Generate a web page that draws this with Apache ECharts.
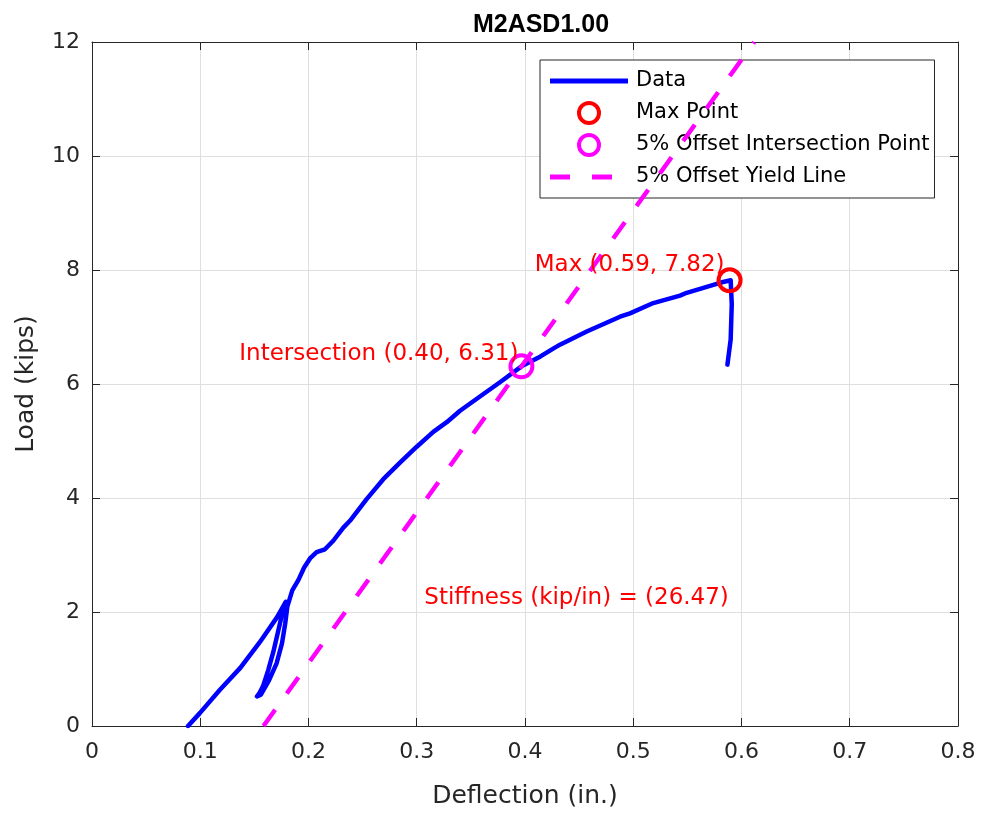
<!DOCTYPE html>
<html>
<head>
<meta charset="utf-8">
<script src="https://cdn.jsdelivr.net/npm/echarts@6/dist/echarts.min.js"></script>
<style>
html,body{margin:0;padding:0;background:#fff;}
#chart{width:982px;height:815px;}
</style>
</head>
<body>
<div id="chart"></div>
<script>
// ---- data ----
const deflection = [
  0.0887, 0.0998, 0.118, 0.137, 0.155, 0.171, 0.179,
  0.1755, 0.1718, 0.1675, 0.1628, 0.158, 0.1545, 0.1524,
  0.156, 0.1635, 0.1705, 0.1755, 0.1785, 0.1805,
  0.1850, 0.1906, 0.1960, 0.2014, 0.2075, 0.2152, 0.2229, 0.2322, 0.2383, 0.2537, 0.2691,
  0.2845, 0.3000, 0.3153, 0.3277, 0.3400, 0.3584, 0.3769, 0.3967, 0.4139, 0.4268, 0.4323,
  0.4570, 0.4878, 0.4970, 0.5185, 0.5432, 0.5494, 0.5740, 0.5830, 0.5900,
  0.5910, 0.5900, 0.5870];
const loadKips = [
  0, 0.23, 0.63, 1.02, 1.47, 1.91, 2.18,
  1.95, 1.65, 1.30, 0.98, 0.70, 0.57, 0.52,
  0.55, 0.80, 1.10, 1.45, 1.80, 2.10,
  2.38, 2.56, 2.78, 2.94, 3.05, 3.10, 3.25, 3.48, 3.60, 3.98, 4.33,
  4.62, 4.90, 5.16, 5.33, 5.53, 5.78, 6.03, 6.31, 6.48, 6.63, 6.69,
  6.92, 7.18, 7.24, 7.42, 7.55, 7.60, 7.74, 7.79, 7.82,
  7.40, 6.78, 6.34];
const maxPoint = [0.589, 7.82];
const intersectionPoint = [0.3967, 6.31];
const yieldLineX = [0.1584, 0.6117];
const yieldLineY = [0, 12];
const stiffness = 26.47;
const xTicks = [0, 0.1, 0.2, 0.3, 0.4, 0.5, 0.6, 0.7, 0.8];
const yTicks = [0, 2, 4, 6, 8, 10, 12];
const legendNames = ['Data', 'Max Point', '5% Offset Intersection Point', '5% Offset Yield Line'];

// ---- chart ----
const FONT = 'DejaVu Sans';
const AX = '#262626';
const BLUE = '#0000FF', RED = '#FF0000', MAGENTA = '#FF00FF';
const chart = echarts.init(document.getElementById('chart'));
const xMin = xTicks[0], xMax = xTicks[xTicks.length - 1], xInt = xTicks[1] - xTicks[0];
const yMin = yTicks[0], yMax = yTicks[yTicks.length - 1], yInt = yTicks[1] - yTicks[0];

function baseAxis(min, max, interval, extra) {
  return Object.assign({
    type: 'value', min: min, max: max, interval: interval,
    axisLine: { show: true, onZero: false, lineStyle: { color: AX, width: 1 } },
    axisTick: { show: true, inside: true, length: 8, lineStyle: { color: AX, width: 1 } },
    splitLine: { show: false }
  }, extra);
}

const labelFmt = (p) => [p.value[0].toFixed(2), p.value[1].toFixed(2)].join(', ');

const option = {
  animation: false,
  backgroundColor: '#fff',
  title: {
    text: 'M2ASD1.00', left: 536, top: 8, textAlign: 'center',
    textStyle: { fontFamily: 'Liberation Sans', fontWeight: 'bold', fontSize: 25, color: '#000' }
  },
  grid: { left: 92, right: 24, top: 42, bottom: 89, containLabel: false },
  legend: {
    orient: 'vertical', left: 540, top: 60,
    itemWidth: 78, itemHeight: 20, itemGap: 8,
    padding: [9, 5, 9, 10],
    borderColor: AX, borderWidth: 1, backgroundColor: '#fff', borderRadius: 0,
    textStyle: { fontFamily: FONT, fontSize: 21, color: '#000', lineHeight: 24, padding: [0, 0, 0, 3] },
    data: [
      { name: legendNames[0], icon: 'path://M0,0H78V5H0Z', itemStyle: { color: BLUE, borderWidth: 0 } },
      { name: legendNames[1], icon: 'circle', itemStyle: { color: 'rgba(255,255,255,0)', borderColor: RED, borderWidth: 4 } },
      { name: legendNames[2], icon: 'circle', itemStyle: { color: 'rgba(255,255,255,0)', borderColor: MAGENTA, borderWidth: 4 } },
      { name: legendNames[3], icon: 'path://M0,0H20V5H0Z M42,0H62V5H42Z M78,0L78,5L78,0Z', itemStyle: { color: MAGENTA, borderWidth: 0 } }
    ]
  },
  xAxis: [
    baseAxis(xMin, xMax, xInt, {
      position: 'bottom',
      name: 'Deflection (in.)', nameLocation: 'middle', nameGap: 58,
      nameTextStyle: { fontFamily: FONT, fontSize: 25, color: AX },
      axisLabel: { show: true, margin: 15, color: AX, fontFamily: FONT, fontSize: 22,
        formatter: (v) => String(+v.toFixed(1)) },
      splitLine: { show: true, lineStyle: { color: '#dfdfdf', width: 1 } }
    }),
    baseAxis(xMin, xMax, xInt, { position: 'top', axisLabel: { show: false } })
  ],
  yAxis: [
    baseAxis(yMin, yMax, yInt, {
      position: 'left',
      name: 'Load (kips)', nameLocation: 'middle', nameGap: 53,
      nameTextStyle: { fontFamily: FONT, fontSize: 25, color: AX },
      axisLabel: { show: true, margin: 12, color: AX, fontFamily: FONT, fontSize: 22 },
      splitLine: { show: true, lineStyle: { color: '#dfdfdf', width: 1 } }
    }),
    baseAxis(yMin, yMax, yInt, { position: 'right', axisLabel: { show: false } })
  ],
  series: [
    {
      name: 'Data', type: 'line', xAxisIndex: 0, yAxisIndex: 0,
      data: deflection.map((d, i) => [d, loadKips[i]]),
      showSymbol: false, symbol: 'none', smooth: false,
      lineStyle: { color: BLUE, width: 4.5, join: 'round', cap: 'round' },
      itemStyle: { color: BLUE },
      z: 3
    },
    {
      name: '5% Offset Yield Line', type: 'line', xAxisIndex: 0, yAxisIndex: 0,
      data: yieldLineX.map((d, i) => [d, yieldLineY[i]]),
      showSymbol: false, symbol: 'none', clip: true,
      lineStyle: { color: MAGENTA, width: 4.5, type: [20, 20], cap: 'butt' },
      itemStyle: { color: MAGENTA },
      z: 4,
      markPoint: {
        symbol: 'circle', symbolSize: 0, silent: true,
        data: [{
          coord: [0.307, 2.25], value: stiffness,
          label: {
            show: true, position: 'inside', align: 'left', verticalAlign: 'middle',
            formatter: 'Stiffness (kip/in) = (' + stiffness.toFixed(2) + ')',
            color: RED, fontFamily: FONT, fontSize: 23
          }
        }]
      }
    },
    {
      name: 'Max Point', type: 'scatter', xAxisIndex: 0, yAxisIndex: 0,
      data: [maxPoint], symbol: 'circle', symbolSize: 22,
      itemStyle: { color: 'rgba(255,255,255,0)', borderColor: RED, borderWidth: 4, opacity: 1 },
      label: {
        show: true, position: [8, 9], align: 'right', verticalAlign: 'bottom',
        formatter: (p) => 'Max (' + labelFmt(p) + ')',
        color: RED, fontFamily: FONT, fontSize: 23
      },
      z: 6
    },
    {
      name: '5% Offset Intersection Point', type: 'scatter', xAxisIndex: 0, yAxisIndex: 0,
      data: [intersectionPoint], symbol: 'circle', symbolSize: 22,
      itemStyle: { color: 'rgba(255,255,255,0)', borderColor: MAGENTA, borderWidth: 4, opacity: 1 },
      label: {
        show: true, position: [10, 12], align: 'right', verticalAlign: 'bottom',
        formatter: (p) => 'Intersection (' + labelFmt(p) + ')',
        color: RED, fontFamily: FONT, fontSize: 23
      },
      z: 6
    }
  ]
};
chart.setOption(option);
</script>
</body>
</html>
